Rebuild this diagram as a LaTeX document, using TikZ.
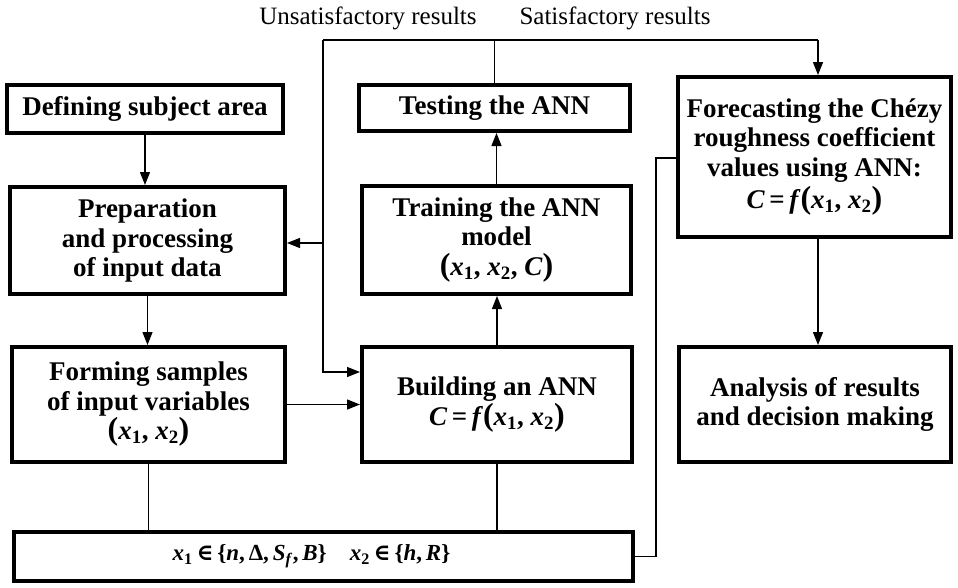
\documentclass[tikz,border=0pt]{standalone}
\usepackage{fontspec}
\setmainfont{Liberation Serif}
\newfontfamily\symfont{DejaVu Serif}
\usetikzlibrary{arrows.meta,calc}
% bold-italic variables, bold subscripts, tall parentheses
\newcommand\vb[1]{\textbf{\textit{#1}}}
\newcommand\sbi[1]{\textsubscript{\textbf{#1}}}
\newcommand\lpar{{\fontsize{32}{32}\selectfont(}}
\newcommand\rpar{{\fontsize{32}{32}\selectfont)}}
\newcommand\elem{{\symfont\bfseries ∈}}
\begin{document}
\begin{tikzpicture}[x=1pt,y=-1pt,
  box/.style={draw, line width=4pt, rectangle, align=center,
    font=\fontsize{27}{29.5}\selectfont\bfseries, inner sep=0pt},
  link/.style={line width=1.4pt},
  arr/.style={link, -{Triangle[length=13pt,width=10pt]}},
  lbl/.style={font=\fontsize{25}{25}\selectfont, inner sep=0pt}]
\useasboundingbox (0,0) rectangle (958,587);

% process boxes
\node[box, minimum width=276pt, minimum height=48pt] (def) at (145,109) {Defining subject area};
\node[box, minimum width=271pt, minimum height=46pt] (test) at (494.5,108) {Testing the ANN};
\node[box, minimum width=273pt, minimum height=160pt] (fore) at (814.5,157)
  {Forecasting the Chézy\\ roughness coefficient\\ values using ANN:\\[3pt]
   \vb{C}\,=\,\vb{f}\lpar\vb{x}\sbi{1}, \vb{x}\sbi{2}\rpar};
\node[box, minimum width=275pt, minimum height=107pt] (prep) at (147.5,240.5)
  {Preparation\\ and processing\\ of input data};
\node[box, minimum width=269pt, minimum height=108pt] (train) at (496.5,240)
  {Training the ANN\\ model\\ \lpar\vb{x}\sbi{1}, \vb{x}\sbi{2}, \vb{C}\rpar};
\node[box, minimum width=273pt, minimum height=115pt] (form) at (148.5,404.5)
  {Forming samples\\ of input variables\\ \lpar\vb{x}\sbi{1}, \vb{x}\sbi{2}\rpar};
\node[box, minimum width=270pt, minimum height=115pt] (build) at (497,404.5)
  {Building an ANN\\ \vb{C}\,=\,\vb{f}\lpar\vb{x}\sbi{1}, \vb{x}\sbi{2}\rpar};
\node[box, minimum width=272pt, minimum height=115pt] (anal) at (815,404.5)
  {Analysis of results\\ and decision making};
\node[box, minimum width=619pt, minimum height=49pt, font=\fontsize{23}{25}\selectfont\bfseries] (bot) at (323.5,556.5)
  {\vb{x}\sbi{1}\,\elem\,\{\vb{n},\,Δ,\,\vb{S}\sbi{\textit{f}},\,\vb{B}\}\quad
   \vb{x}\sbi{2}\,\elem\,\{\vb{h},\,\vb{R}\}\hspace*{24pt}};

% feedback labels
\node[lbl] (unsat) at (368,18) {Unsatisfactory results};
\node[lbl] (sat) at (615,18) {Satisfactory results};

% main flow
\draw[arr] (def.south) -- (def.south |- prep.north);
\draw[arr] (prep.south) -- (prep.south |- form.north);
\draw[arr] (form.east) -- (form.east -| build.west);
\draw[arr] (build.north) -- (build.north |- train.south);
\draw[arr] (train.north) -- (train.north |- test.south);

% testing outcome branches
\coordinate (tl) at (323,40);
\coordinate (tr) at (818,40);
\draw[link] (test.north) -- (test.north |- tl);
\draw[link] (tl) -- (tr);
\draw[arr] (tr) -- (tr |- fore.north);
\draw[arr] (tl) |- (build.west |- 0,372);
\draw[arr] (tl |- 0,243) -- (prep.east |- 0,243);
\draw[arr] (tr |- fore.south) -- (tr |- anal.north);

% input variable set
\draw[link] (form.south) -- (form.south |- bot.north);
\draw[link] (build.south) -- (build.south |- bot.north);
\coordinate (rb) at (656,158);
\draw[link] (bot.east) -| (rb) -- (rb -| fore.west);
\end{tikzpicture}
\end{document}
